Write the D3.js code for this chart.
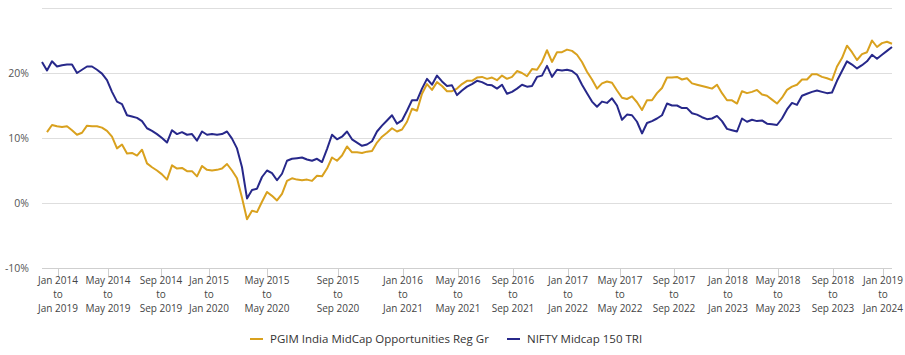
<!DOCTYPE html>
<html>
<head>
<meta charset="utf-8">
<script src="https://cdn.jsdelivr.net/npm/d3@7/dist/d3.min.js"></script>
<style>
  html, body { margin: 0; padding: 0; background: #fff; }
  svg { display: block; }
  text { font-family: "Open Sans", "DejaVu Sans", sans-serif; }
</style>
</head>
<body>
<div id="chart"></div>
<script>
// Rolling 5-year return (%) sampled at regular observation steps
const seriesNames = ["PGIM India MidCap Opportunities Reg Gr", "NIFTY Midcap 150 TRI"];
const seriesColors = ["#D9A11E", "#27288A"];

const fundValues = [null,10.9,12.0,11.8,11.7,11.8,11.2,10.5,10.8,11.9,
  11.8,11.8,11.6,11.1,10.2,8.4,9.0,7.6,7.7,7.3,
  8.2,6.1,5.5,5.0,4.4,3.6,5.8,5.3,5.4,4.9,
  4.9,4.1,5.7,5.1,5.0,5.1,5.3,6.0,5.0,3.8,
  0.8,-2.5,-1.2,-1.4,0.2,1.7,1.1,0.4,1.4,3.4,
  3.8,3.6,3.5,3.6,3.4,4.2,4.1,5.3,7.0,6.5,
  7.3,8.7,7.8,7.8,7.7,7.9,8.0,9.3,10.2,10.8,
  11.5,11.0,11.3,12.5,14.5,14.2,16.8,18.3,17.4,18.6,
  18.0,17.2,17.2,17.6,18.3,18.8,18.8,19.3,19.4,19.1,
  19.3,18.9,19.6,19.1,19.4,20.3,20.0,19.5,20.6,20.5,
  21.7,23.5,21.7,23.2,23.2,23.6,23.4,22.8,21.7,20.2,
  19.0,17.6,18.4,18.7,18.5,17.3,16.2,16.0,16.4,15.5,
  14.3,15.8,15.8,16.9,17.7,19.3,19.3,19.4,19.0,19.2,
  18.4,18.2,18.0,17.8,17.6,18.2,16.9,15.8,15.8,15.3,
  17.2,16.9,17.1,17.4,16.7,16.5,15.9,15.3,16.2,17.4,
  17.9,18.2,19.0,19.0,19.8,19.8,19.4,19.2,18.9,21.0,
  22.3,24.2,23.2,22.0,22.9,23.2,25.0,24.0,24.6,24.8,
  24.5];

const benchValues = [21.7,20.4,21.8,21.0,21.2,21.3,21.3,20.0,20.5,21.0,
  21.0,20.5,19.9,18.9,17.1,15.6,15.2,13.5,13.3,13.1,
  12.6,11.5,11.1,10.6,10.0,9.3,11.2,10.6,10.9,10.5,
  10.6,9.6,11.0,10.5,10.6,10.5,10.6,11.0,9.9,8.4,
  5.5,0.7,2.0,2.2,4.0,5.0,4.6,3.5,4.5,6.5,
  6.8,6.9,7.0,6.7,6.5,6.8,6.3,8.3,10.5,9.8,
  10.2,11.0,9.8,9.3,8.8,9.0,9.5,11.0,11.9,12.7,
  13.5,12.2,12.7,14.2,15.8,15.8,17.6,19.1,18.2,19.6,
  18.7,18.0,18.1,16.6,17.3,17.9,18.3,18.8,18.6,18.2,
  18.1,17.6,18.2,16.8,17.1,17.6,18.2,17.9,18.0,19.4,
  19.6,21.1,19.4,20.5,20.4,20.5,20.3,19.7,18.2,16.9,
  15.6,14.8,15.6,15.4,16.1,15.0,12.8,13.6,13.5,12.5,
  10.7,12.3,12.6,13.0,13.5,15.3,15.0,15.0,14.6,14.6,
  13.8,13.6,13.2,12.9,13.0,13.4,12.6,11.4,11.2,11.0,
  13.0,12.5,12.8,12.6,12.7,12.2,12.1,12.0,13.0,14.4,
  15.4,15.1,16.5,16.8,17.1,17.3,17.1,16.9,17.0,18.8,
  20.3,21.8,21.3,20.7,21.2,21.8,22.8,22.2,22.8,23.4,
  24.0];

// x-axis ticks: observation index where each rolling window starts
const tickPositions = [3.2,13.2,23.8,33.4,45.0,59.2,72.2,83.2,94.2,105.2,115.6,126.4,137.2,147.2,158.2,168.2];
const tickStarts = ["Jan 2014","May 2014","Sep 2014","Jan 2015","May 2015","Sep 2015","Jan 2016","May 2016","Sep 2016","Jan 2017","May 2017","Sep 2017","Jan 2018","May 2018","Sep 2018","Jan 2019"];
const tickEnds = ["Jan 2019","May 2019","Sep 2019","Jan 2020","May 2020","Sep 2020","Jan 2021","May 2021","Sep 2021","Jan 2022","May 2022","Sep 2022","Jan 2023","May 2023","Sep 2023","Jan 2024"];
const yTicks = [-10, 0, 10, 20, 30];
const yTickLabels = ["-10%", "0%", "10%", "20%", ""];

const W = 905, H = 355;
const margin = {left: 42, right: 13, top: 8, bottom: 87};

const svg = d3.select("#chart").append("svg").attr("width", W).attr("height", H);

const x = d3.scaleLinear().domain([0, benchValues.length - 1]).range([margin.left, W - margin.right]);
const y = d3.scaleLinear().domain([-10, 30]).range([H - margin.bottom, margin.top]);

// grid
svg.append("g").selectAll("line").data(yTicks).join("line")
  .attr("x1", margin.left).attr("x2", W - margin.right)
  .attr("y1", d => y(d)).attr("y2", d => y(d))
  .attr("stroke", d => d === -10 ? "#cfcfcf" : "#dedede").attr("stroke-width", 1)
  .attr("shape-rendering", "crispEdges");

// y labels
svg.append("g").selectAll("text").data(yTicks).join("text")
  .attr("x", 29).attr("y", d => y(d) + 4)
  .attr("text-anchor", "end").attr("font-size", 10.5).attr("fill", "#555")
  .text((d, i) => yTickLabels[i]);

// x ticks
const xg = svg.append("g");
xg.selectAll("line").data(tickPositions).join("line")
  .attr("x1", d => x(d)).attr("x2", d => x(d))
  .attr("y1", y(-10)).attr("y2", y(-10) + 9)
  .attr("stroke", "#cfcfcf").attr("shape-rendering", "crispEdges");
const tl = xg.selectAll("text").data(tickPositions).join("text")
  .attr("text-anchor", "middle").attr("font-size", 10).attr("fill", "#444")
  .attr("x", d => x(d));
tl.append("tspan").attr("x", d => x(d)).attr("y", y(-10) + 16).text((d, i) => tickStarts[i]);
tl.append("tspan").attr("x", d => x(d)).attr("y", y(-10) + 30).text("to");
tl.append("tspan").attr("x", d => x(d)).attr("y", y(-10) + 44).text((d, i) => tickEnds[i]);

// lines
const line = d3.line().defined(d => d != null).x((d, i) => x(i)).y(d => y(d));
[fundValues, benchValues].forEach((vals, k) => {
  svg.append("path").datum(vals)
    .attr("fill", "none").attr("stroke", seriesColors[k])
    .attr("stroke-width", 2).attr("stroke-linejoin", "round")
    .attr("d", d => line(d.map(v => v)) );
});

// legend
const legendItems = [{x: 250}, {x: 507}];
const lg = svg.append("g");
legendItems.forEach((it, k) => {
  lg.append("line").attr("x1", it.x).attr("x2", it.x + 13)
    .attr("y1", 339).attr("y2", 339)
    .attr("stroke", seriesColors[k]).attr("stroke-width", 2);
  lg.append("text").attr("x", it.x + 20).attr("y", 343)
    .attr("font-size", 11.5).attr("fill", "#333").text(seriesNames[k]);
});
</script>
</body>
</html>
